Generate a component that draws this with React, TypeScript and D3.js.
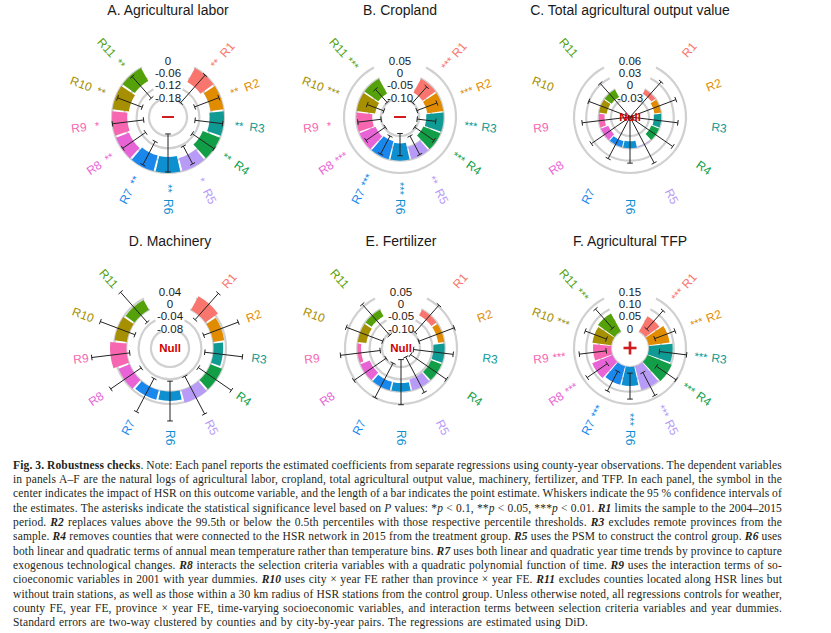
import React, { useEffect, useRef } from 'react';
import * as d3 from 'd3';

// ---------- data ----------
const categories = ['R1', 'R2', 'R3', 'R4', 'R5', 'R6', 'R7', 'R8', 'R9', 'R10', 'R11'];
const catColors = ['#F8766D', '#E08B00', '#0F9A94', '#119E47', '#B79BF7', '#0E8FCF', '#1A87EC', '#E864D6', '#F766B0', '#A68F00', '#55A10A'];

const panelTitles = ['A. Agricultural labor', 'B. Cropland', 'C. Total agricultural output value', 'D. Machinery', 'E. Fertilizer', 'F. Agricultural TFP'];
const centerMarks = ['minus', 'minus', 'Null', 'Null', 'Null', 'plus'];

const ticksA = [0, -0.06, -0.12, -0.18];
const tickLabelsA = ['0', '-0.06', '-0.12', '-0.18'];
const valuesA = [-0.078, -0.063, -0.07, -0.09, -0.066, -0.078, -0.078, -0.068, -0.074, -0.08, -0.073];
const lowsA = [-0.18, -0.134, -0.14, -0.13, -0.112, -0.19, -0.138, -0.14, -0.153, -0.138, -0.15];
const highsA = [0.0, -0.008, -0.005, 0.0, -0.015, -0.005, -0.01, -0.005, 0.0, -0.01, -0.01];
const starsA = ['**', '**', '**', '**', '*', '**', '**', '**', '*', '**', '**'];

const ticksB = [0.05, 0, -0.05, -0.1];
const tickLabelsB = ['0.05', '0', '-0.05', '-0.10'];
const valuesB = [-0.064, -0.065, -0.07, -0.075, -0.05, -0.07, -0.075, -0.07, -0.064, -0.075, -0.068];
const lowsB = [-0.1, -0.104, -0.107, -0.105, -0.09, -0.11, -0.09, -0.105, -0.1, -0.107, -0.098];
const highsB = [-0.014, -0.017, -0.031, -0.01, -0.005, -0.02, -0.008, -0.01, -0.005, -0.035, -0.027];
const starsB = ['***', '***', '***', '***', '**', '***', '***', '***', '*', '***', '***'];

const ticksC = [0.06, 0.03, 0, -0.03];
const tickLabelsC = ['0.06', '0.03', '0', '-0.03'];
const valuesC = [-0.012, -0.016, -0.018, -0.02, -0.002, -0.017, -0.015, -0.019, -0.014, -0.019, -0.021];
const lowsC = [-0.082, -0.09, -0.088, -0.1, -0.085, -0.08, -0.079, -0.085, -0.09, -0.078, -0.082];
const highsC = [0.038, 0.043, 0.041, 0.05, 0.05, 0.036, 0.038, 0.038, 0.041, 0.031, 0.033];
const starsC = ['', '', '', '', '', '', '', '', '', '', ''];

const ticksD = [0.04, 0, -0.04, -0.08];
const tickLabelsD = ['0.04', '0', '-0.04', '-0.08'];
const valuesD = [0.05, 0.036, 0.031, 0.04, 0.042, 0.03, 0.032, 0.038, 0.053, 0.04, 0.036];
const lowsD = [-0.019, -0.025, -0.028, -0.03, -0.038, -0.034, -0.03, -0.028, -0.01, -0.02, -0.03];
const highsD = [0.095, 0.095, 0.095, 0.1, 0.1, 0.095, 0.092, 0.092, 0.114, 0.1, 0.1];
const starsD = ['', '', '', '', '', '', '', '', '', '', ''];

const ticksE = [0.05, 0, -0.05, -0.1];
const tickLabelsE = ['0.05', '0', '-0.05', '-0.10'];
const valuesE = [-0.025, -0.025, -0.045, -0.045, -0.045, -0.035, -0.035, -0.04, -0.015, -0.035, -0.03];
const lowsE = [-0.092, -0.1, -0.126, -0.13, -0.136, -0.13, -0.108, -0.104, -0.092, -0.098, -0.108];
const highsE = [0.055, 0.054, 0.036, 0.046, 0.026, 0.053, 0.05, 0.055, 0.07, 0.06, 0.06];
const starsE = ['', '', '', '', '', '', '', '', '', '', ''];

const ticksF = [0.15, 0.1, 0.05, 0];
const tickLabelsF = ['0.15', '0.10', '0.05', '0'];
const valuesF = [0.07, 0.085, 0.096, 0.105, 0.099, 0.077, 0.077, 0.088, 0.073, 0.077, 0.083];
const lowsF = [0.025, 0.03, 0.043, 0.053, 0.035, 0.025, 0.03, 0.035, 0.02, 0.025, 0.03];
const highsF = [0.125, 0.118, 0.154, 0.15, 0.14, 0.13, 0.12, 0.134, 0.13, 0.117, 0.134];
const starsF = ['***', '***', '***', '***', '***', '***', '***', '***', '***', '***', '***'];

// caption: segments [text, style]  n=normal b=bold i=italic bi=bold italic
const captionLines: [string, string][][] = [
  [['Fig. 3.', 'b'], [' Robustness checks', 'b'], ['. Note: Each panel reports the estimated coefficients from separate regressions using county-year observations. The dependent variables', 'n']],
  [['in panels A–F are the natural logs of agricultural labor, cropland, total agricultural output value, machinery, fertilizer, and TFP. In each panel, the symbol in the', 'n']],
  [['center indicates the impact of HSR on this outcome variable, and the length of a bar indicates the point estimate. Whiskers indicate the 95 % confidence intervals of', 'n']],
  [['the estimates. The asterisks indicate the statistical significance level based on ', 'n'], ['P', 'i'], [' values: *', 'n'], ['p', 'i'], [' < 0.1, **', 'n'], ['p', 'i'], [' < 0.05, ***', 'n'], ['p', 'i'], [' < 0.01. ', 'n'], ['R1', 'bi'], [' limits the sample to the 2004–2015', 'n']],
  [['period. ', 'n'], ['R2', 'bi'], [' replaces values above the 99.5th or below the 0.5th percentiles with those respective percentile thresholds. ', 'n'], ['R3', 'bi'], [' excludes remote provinces from the', 'n']],
  [['sample. ', 'n'], ['R4', 'bi'], [' removes counties that were connected to the HSR network in 2015 from the treatment group. ', 'n'], ['R5', 'bi'], [' uses the PSM to construct the control group. ', 'n'], ['R6', 'bi'], [' uses', 'n']],
  [['both linear and quadratic terms of annual mean temperature rather than temperature bins. ', 'n'], ['R7', 'bi'], [' uses both linear and quadratic year time trends by province to capture', 'n']],
  [['exogenous technological changes. ', 'n'], ['R8', 'bi'], [' interacts the selection criteria variables with a quadratic polynomial function of time. ', 'n'], ['R9', 'bi'], [' uses the interaction terms of so-', 'n']],
  [['cioeconomic variables in 2001 with year dummies. ', 'n'], ['R10', 'bi'], [' uses city × year FE rather than province × year FE. ', 'n'], ['R11', 'bi'], [' excludes counties located along HSR lines but', 'n']],
  [['without train stations, as well as those within a 30 km radius of HSR stations from the control group. Unless otherwise noted, all regressions controls for weather,', 'n']],
  [['county FE, year FE, province × year FE, time-varying socioeconomic variables, and interaction terms between selection criteria variables and year dummies.', 'n']],
  [['Standard errors are two-way clustered by counties and by city-by-year pairs. The regressions are estimated using DiD.', 'n']],
];

// ---------- layout ----------
const W = 831;
const H = 633;
const panelCenters: [number, number][] = [[168, 117], [400, 117], [630, 117], [170, 348], [401, 348], [630, 348]];
const SLOTS = 13;
const slotAngle = (2 * Math.PI) / SLOTS;
const R_MIN = 19;
const R_MAX = 56;
const SANS = 'Liberation Sans, Arial, sans-serif';

type PanelProps = {
  idx: number;
  ticks: number[];
  tickLabels: string[];
  values: number[];
  lows: number[];
  highs: number[];
  stars: string[];
};

function Panel({ idx, ticks, tickLabels, values, lows, highs, stars }: PanelProps) {
  const [cx, cy] = panelCenters[idx];
  const r = d3.scaleLinear().domain([d3.min(ticks)!, d3.max(ticks)!]).range([R_MIN, R_MAX]);
  const angle = d3.scaleBand<string>().domain(categories).range([slotAngle, slotAngle * 12]).paddingInner(0.08).paddingOuter(0.04);
  const aMid = (c: string) => (angle(c) as number) + angle.bandwidth() / 2;
  const arc = d3.arc<any>();
  const gridPath = (rad: number) => {
    const p = d3.path();
    const a0 = slotAngle - Math.PI / 2;
    const a1 = slotAngle * 12 - Math.PI / 2;
    p.moveTo(rad * Math.cos(a0), rad * Math.sin(a0));
    p.arc(0, 0, rad, a0, a1);
    return p.toString();
  };
  const pt = (rad: number, a: number) => [rad * Math.sin(a), -rad * Math.cos(a)];
  const mark = centerMarks[idx];

  return (
    <g transform={`translate(${cx},${cy})`}>
      <text x={0} y={-107} textAnchor="middle" dominantBaseline="central" fontFamily={SANS} fontSize={14} fill="#1a1a1a">
        {panelTitles[idx]}
      </text>
      {ticks.map((t) => (
        <path key={'g' + t} d={gridPath(r(t))} fill="none" stroke="#d0d0d0" strokeWidth={2.2} />
      ))}
      {categories.map((c, i) => {
        const v = values[i];
        const a0 = angle(c) as number;
        const d = arc({
          innerRadius: r(Math.min(0, v)),
          outerRadius: r(Math.max(0, v)),
          startAngle: a0,
          endAngle: a0 + angle.bandwidth(),
        });
        return <path key={'b' + c} d={d || ''} fill={catColors[i]} />;
      })}
      {categories.map((c, i) => {
        const a = aMid(c);
        const rLo = Math.max(0, r(lows[i]));
        const rHi = r(highs[i]);
        const [x1, y1] = pt(rLo, a);
        const [x2, y2] = pt(rHi, a);
        const cw = 2.8;
        const px = Math.cos(a) * cw;
        const py = Math.sin(a) * cw;
        return (
          <g key={'w' + c} stroke="#222" strokeWidth={1}>
            <line x1={x1} y1={y1} x2={x2} y2={y2} />
            {rLo > 0 && <line x1={x1 - px} y1={y1 - py} x2={x1 + px} y2={y1 + py} />}
            <line x1={x2 - px} y1={y2 - py} x2={x2 + px} y2={y2 + py} />
          </g>
        );
      })}
      {categories.map((c, i) => {
        const a = aMid(c);
        const deg = (a * 180) / Math.PI;
        const right = deg <= 180.5;
        const rot = right ? deg - 90 : deg + 90;
        const [lx, ly] = pt(82, a);
        const [sx, sy] = pt(71.5, a);
        return (
          <g key={'l' + c} fontFamily={SANS} fill={catColors[i]}>
            <text transform={`translate(${lx},${ly}) rotate(${rot})`} textAnchor={right ? 'start' : 'end'} dominantBaseline="central" fontSize={12}>
              {c}
            </text>
            {stars[i] && (
              <text transform={`translate(${sx},${sy}) rotate(${rot})`} textAnchor="middle" dominantBaseline="central" fontSize={11}>
                {stars[i]}
              </text>
            )}
          </g>
        );
      })}
      {ticks.map((t, j) => (
        <text key={'t' + t} x={0} y={-r(t) - 0.5} textAnchor="middle" dominantBaseline="central" fontFamily={SANS} fontSize={11.5} fill="#1a1a1a">
          {tickLabels[j]}
        </text>
      ))}
      {mark === 'minus' && <line x1={-6} x2={6} y1={0} y2={0} stroke="#d01c1c" strokeWidth={2} />}
      {mark === 'plus' && (
        <g stroke="#d01c1c" strokeWidth={2.6}>
          <line x1={-6.5} x2={6.5} y1={0} y2={0} />
          <line x1={0} x2={0} y1={-6.5} y2={6.5} />
        </g>
      )}
      {mark === 'Null' && (
        <text x={0} y={0} textAnchor="middle" dominantBaseline="central" fontFamily={SANS} fontWeight="bold" fontSize={11.5} fill="#d00000">
          Null
        </text>
      )}
    </g>
  );
}

function Caption() {
  const ref = useRef<SVGGElement>(null);
  const x0 = 13;
  useEffect(() => {
    const g = ref.current;
    if (!g) return;
    const texts = Array.from(g.querySelectorAll('text[data-target]')) as SVGTextElement[];
    texts.forEach((t) => {
      const target = Number(t.getAttribute('data-target'));
      t.style.wordSpacing = '0px';
      const len = t.getComputedTextLength();
      const content = t.textContent || '';
      const spaces = (content.match(/ /g) || []).length;
      if (spaces > 0) {
        const ws = (target - len) / spaces;
        t.style.wordSpacing = ws + 'px';
      }
    });
  }, []);
  return (
    <g ref={ref} fontFamily="Liberation Serif, Times New Roman, serif" fontSize={11.5} fill="#231f20" style={{ letterSpacing: '0.15px' }}>
      {captionLines.map((segs, i) => (
        <text key={i} x={x0} y={468.5 + i * 14.35} data-target={i < captionLines.length - 1 ? 769 : 575} style={{ whiteSpace: 'pre' }}>
          {segs.map(([s, st], k) => (
            <tspan key={k} fontWeight={st.includes('b') ? 'bold' : 'normal'} fontStyle={st.includes('i') ? 'italic' : 'normal'}>
              {s}
            </tspan>
          ))}
        </text>
      ))}
    </g>
  );
}

export default function App() {
  return (
    <svg width={W} height={H} viewBox={`0 0 ${W} ${H}`} style={{ position: 'absolute', left: 0, top: 0, background: '#fff' }}>
      <rect width={W} height={H} fill="#fff" />
      <Panel idx={0} ticks={ticksA} tickLabels={tickLabelsA} values={valuesA} lows={lowsA} highs={highsA} stars={starsA} />
      <Panel idx={1} ticks={ticksB} tickLabels={tickLabelsB} values={valuesB} lows={lowsB} highs={highsB} stars={starsB} />
      <Panel idx={2} ticks={ticksC} tickLabels={tickLabelsC} values={valuesC} lows={lowsC} highs={highsC} stars={starsC} />
      <Panel idx={3} ticks={ticksD} tickLabels={tickLabelsD} values={valuesD} lows={lowsD} highs={highsD} stars={starsD} />
      <Panel idx={4} ticks={ticksE} tickLabels={tickLabelsE} values={valuesE} lows={lowsE} highs={highsE} stars={starsE} />
      <Panel idx={5} ticks={ticksF} tickLabels={tickLabelsF} values={valuesF} lows={lowsF} highs={highsF} stars={starsF} />
      <Caption />
    </svg>
  );
}
